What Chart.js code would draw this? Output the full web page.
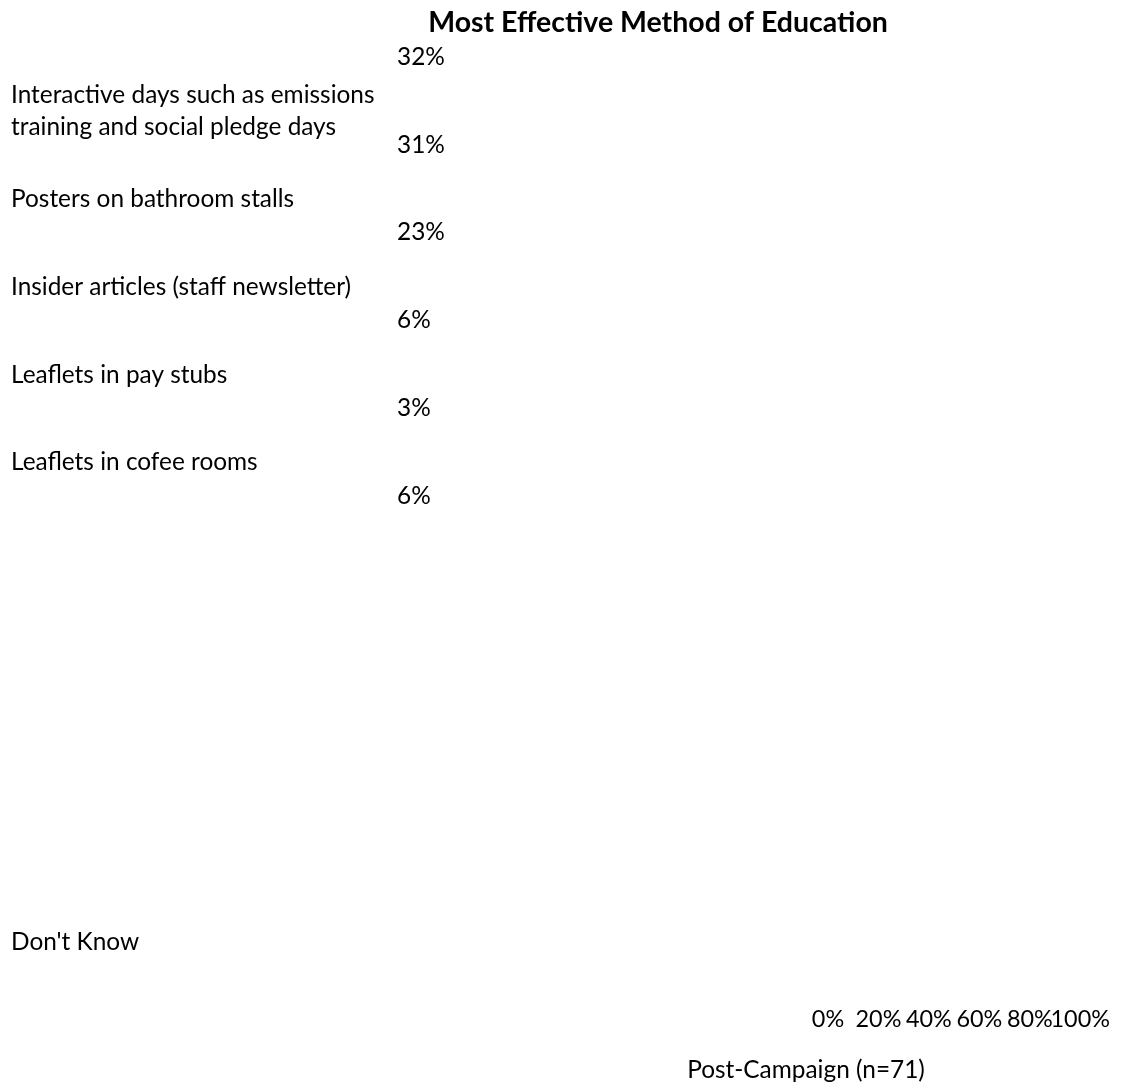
<!DOCTYPE html>
<html>
<head>
<meta charset="utf-8">
<title>Most Effective Method of Education</title>
<script src="https://cdn.jsdelivr.net/npm/chart.js@4/dist/chart.umd.min.js"></script>
<style>
  html, body { margin: 0; padding: 0; background: #fff; overflow: hidden; }
  canvas { display: block; }
</style>
</head>
<body>
<canvas id="eduChart" width="1123" height="1083"></canvas>
<script>
const chartTitle = "Most Effective Method of Education";
const seriesName = "Post-Campaign (n=71)";

const methods = [
  ["Interactive days such as emissions", "training and social pledge days"],
  "Posters on bathroom stalls",
  "Insider articles (staff newsletter)",
  "Leaflets in pay stubs",
  "Leaflets in cofee rooms",
  "Don't Know"
];
const shares = [32, 31, 23, 6, 3, 6];
const xTicks = [0, 20, 40, 60, 80, 100];

const FONT = "Lato, 'Open Sans', sans-serif";

// bars are invisible in this layout, only the texts are drawn
const textLabels = {
  id: "textLabels",
  afterDraw(chart) {
    const ctx = chart.ctx;
    const y = chart.scales.y;
    ctx.save();
    ctx.fillStyle = "#000";
    ctx.textBaseline = "middle";

    // title
    ctx.font = "bold 28.5px " + FONT;
    ctx.textAlign = "center";
    ctx.fillText(chartTitle, 658, 23);

    // value column
    ctx.font = "24.4px " + FONT;
    ctx.textAlign = "left";
    const meta = chart.getDatasetMeta(0);
    meta.data.forEach((bar, i) => {
      ctx.fillText(shares[i] + "%", 397, bar.y);
    });

    // category names
    methods.forEach((name, i) => {
      const last = i === methods.length - 1;
      const cy = y.getPixelForValue(last ? y.max - 0.57 : i + 0.62);
      const lines = Array.isArray(name) ? name : [name];
      const lh = 32;
      lines.forEach((line, k) => {
        ctx.fillText(line, 11, cy + (k - (lines.length - 1) / 2) * lh);
      });
    });

    // series name below the axis
    ctx.textAlign = "center";
    ctx.fillText(seriesName, 806, 1070);
    ctx.restore();
  }
};

new Chart(document.getElementById("eduChart"), {
  type: "bar",
  data: {
    datasets: [{
      label: seriesName,
      data: shares.map((v, i) => ({ x: v, y: i })),
      backgroundColor: "rgba(0,0,0,0)",
      borderWidth: 0,
      barThickness: 40
    }]
  },
  options: {
    indexAxis: "y",
    responsive: false,
    animation: false,
    layout: { padding: { left: 828, right: 41, top: 13, bottom: 37 } },
    scales: {
      x: {
        type: "linear",
        min: 0,
        max: 100,
        afterBuildTicks: (scale) => { scale.ticks = xTicks.map(v => ({ value: v })); },
        ticks: {
          color: "#000",
          font: { family: FONT, size: 23.4 },
          padding: 13,
          maxRotation: 0,
          autoSkip: false,
          callback: (v) => v + "%"
        },
        grid: { display: false, drawTicks: false },
        border: { display: false }
      },
      y: {
        type: "linear",
        reverse: true,
        offset: false,
        min: -0.5,
        max: 10.65,
        display: false
      }
    },
    plugins: {
      legend: { display: false },
      tooltip: { enabled: false }
    }
  },
  plugins: [textLabels]
});
</script>
</body>
</html>
